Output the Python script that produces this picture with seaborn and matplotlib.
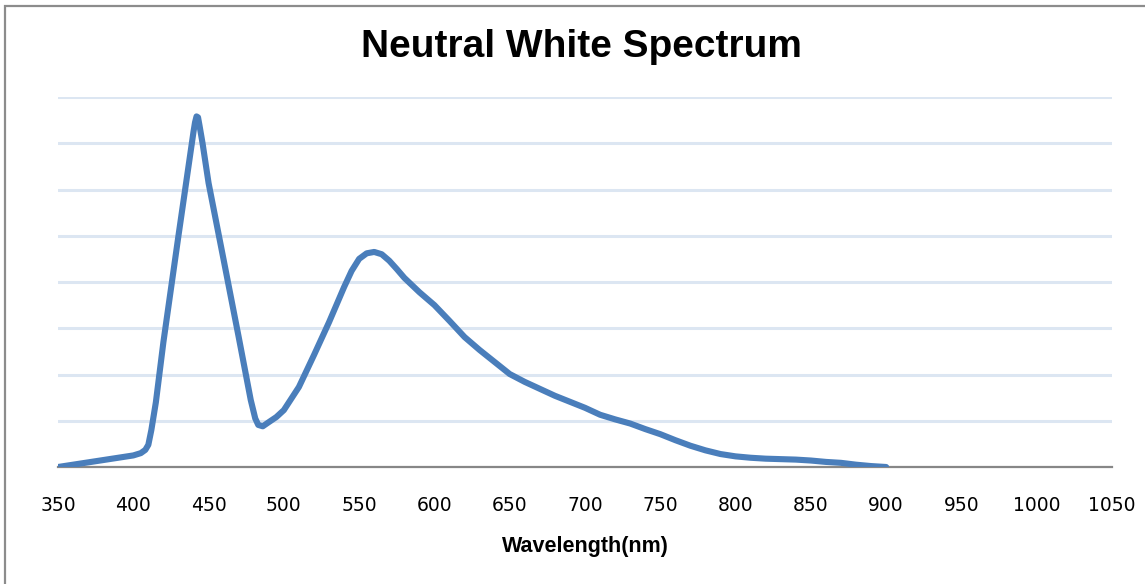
import matplotlib
matplotlib.use("Agg")
import matplotlib.pyplot as plt
import pandas as pd
import seaborn as sns
from matplotlib.patches import Rectangle

# values (relative intensity, gridline units)
wavelength = [350, 360, 370, 380, 390, 400, 405, 408, 410, 412, 415, 420, 430, 436,
              438, 440, 441, 442, 443, 444, 446, 450, 460, 470, 478, 481, 483, 486,
              490, 495, 500, 510, 520, 530, 540, 545, 550, 555, 560, 565, 570, 575,
              580, 590, 600, 610, 620, 630, 640, 650, 660, 670, 680, 690, 700, 710,
              720, 730, 740, 750, 760, 770, 780, 790, 800, 810, 820, 830, 840, 850,
              860, 870, 880, 890, 900]
intensity = [0.00, 0.05, 0.10, 0.15, 0.20, 0.25, 0.30, 0.37, 0.48, 0.80, 1.40, 2.70, 5.00, 6.35,
             6.80, 7.25, 7.45, 7.58, 7.56, 7.38, 7.00, 6.14, 4.48, 2.81, 1.45, 1.05, 0.91, 0.88,
             0.97, 1.08, 1.23, 1.73, 2.42, 3.13, 3.89, 4.24, 4.50, 4.62, 4.65, 4.60, 4.46, 4.28,
             4.09, 3.78, 3.50, 3.16, 2.81, 2.53, 2.27, 2.01, 1.84, 1.69, 1.54, 1.41, 1.28, 1.13,
             1.03, 0.94, 0.82, 0.71, 0.58, 0.46, 0.36, 0.28, 0.23, 0.20, 0.18, 0.17, 0.16, 0.14,
             0.11, 0.09, 0.05, 0.02, 0.00]
x_ticks = list(range(350, 1051, 50))

title = "Neutral White Spectrum"
x_label = "Wavelength(nm)"

df = pd.DataFrame({"wavelength": wavelength, "intensity": intensity})

sns.set_theme(style="white")
plt.rcParams["font.family"] = ["DejaVu Sans"]

W, H = 1145, 584
fig = plt.figure(figsize=(W / 100, H / 100), dpi=100)
ax = fig.add_axes([58 / W, 1 - 467 / H, (1112 - 58) / W, (467 - 97) / H])

ax.set_xlim(350, 1050)
ax.set_ylim(0, 8)
ax.set_yticks(range(1, 9))
ax.yaxis.grid(True, color="#DCE6F2", linewidth=2.2)
ax.set_axisbelow(True)

sns.lineplot(data=df, x="wavelength", y="intensity", ax=ax, color="#4A7EBB",
             linewidth=4.4, solid_capstyle="round", solid_joinstyle="round")

ax.set_xticks(x_ticks)
ax.set_xticklabels([str(t) for t in x_ticks], fontsize=13.5, color="black")
ax.tick_params(axis="x", length=0, pad=21)
ax.tick_params(axis="y", left=False, labelleft=False)
ax.set_ylabel("")
ax.set_xlabel(x_label, fontsize=15.5, fontweight="bold", labelpad=15, color="black",
              family=["Liberation Sans", "DejaVu Sans"])

for side in ("left", "right", "top"):
    ax.spines[side].set_visible(False)
ax.spines["bottom"].set_color("#878787")
ax.spines["bottom"].set_linewidth(1.6)
ax.spines["bottom"].set_zorder(1)

fig.text(581 / W, 1 - 47 / H, title, ha="center", va="center", fontsize=28,
         fontweight="bold", color="black", family=["Liberation Sans", "DejaVu Sans"])

# outer chart frame (Excel style), runs off the right and bottom edges
fig.patches.append(Rectangle((5 / W, -0.1), 1.2, 1 - 6 / H + 0.1, transform=fig.transFigure,
                             fill=False, edgecolor="#8c8c8c", linewidth=1.6))

fig.savefig("out.png", dpi=100)
